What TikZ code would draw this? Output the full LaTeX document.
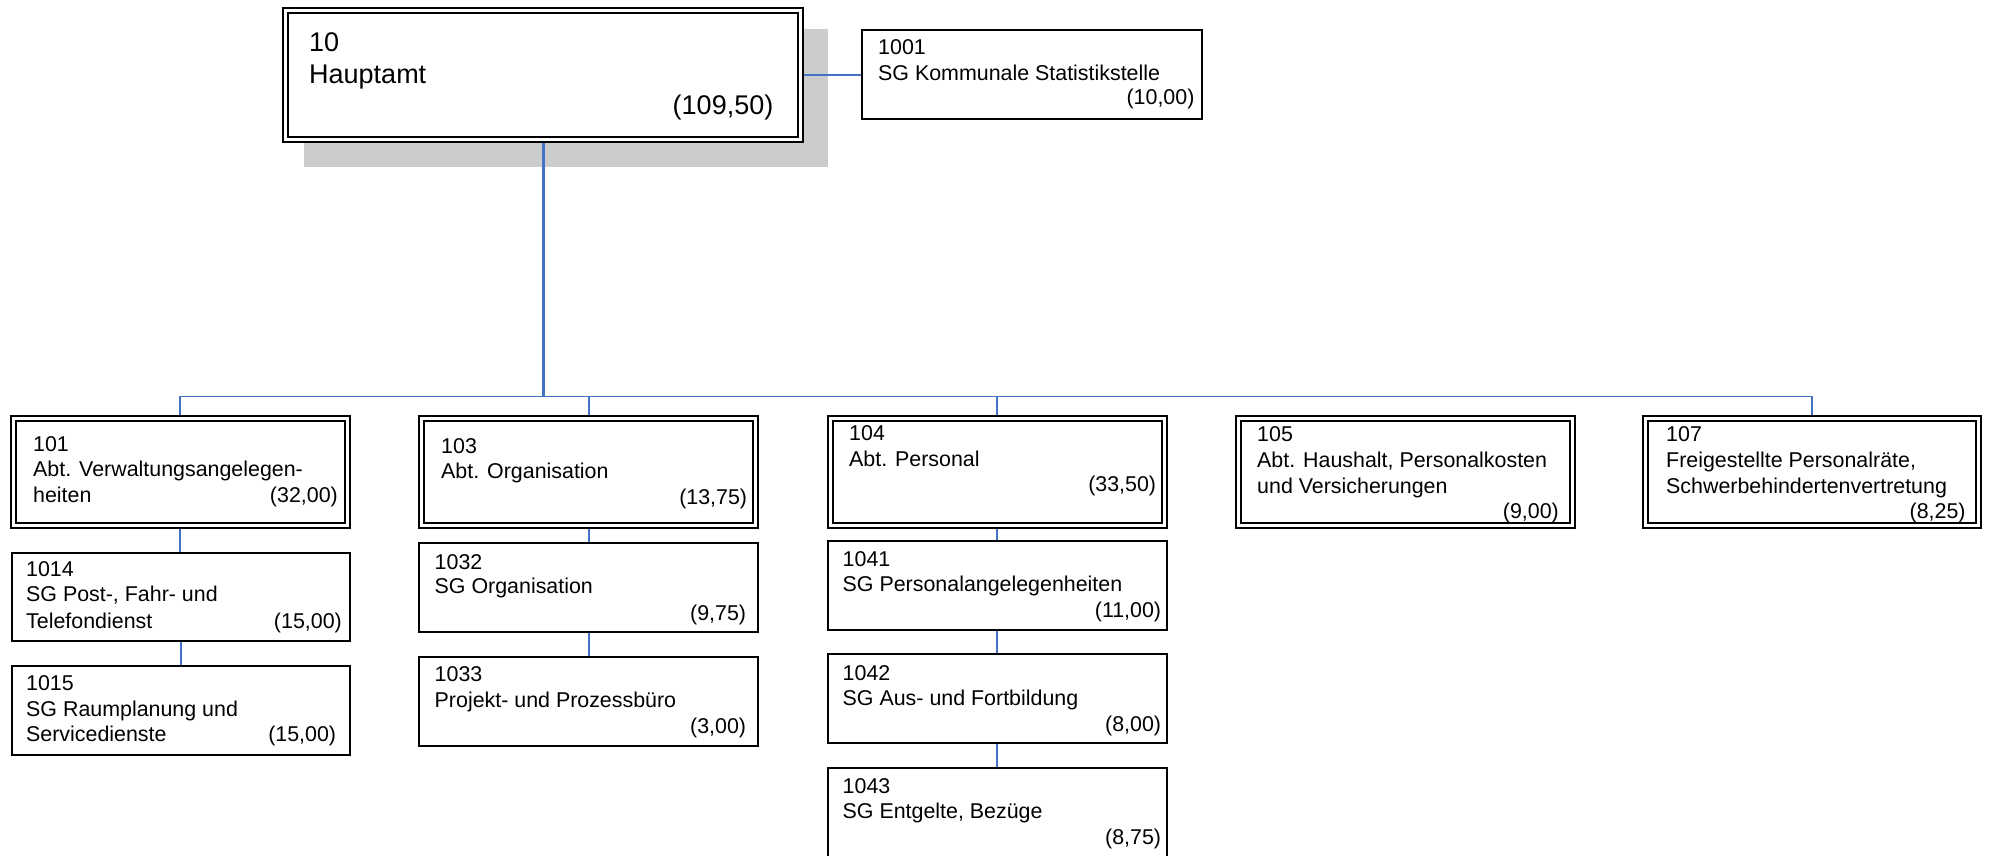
\documentclass[tikz,border=0pt]{standalone}
\usepackage{fontspec}
\setmainfont{Liberation Sans}
\usetikzlibrary{backgrounds}
\definecolor{linkblue}{RGB}{68,114,196}
\definecolor{shadowgray}{RGB}{204,204,204}
\newcommand\fsmall{\fontsize{21.4}{25.5}\selectfont}
\newcommand\fbig{\fontsize{27}{32}\selectfont}
\tikzset{
  dblbox/.style={draw=black, line width=2pt, double=white, double distance=3pt,
    fill=white, inner sep=0pt, outer sep=0pt, anchor=north west},
  sglbox/.style={draw=black, line width=2pt, fill=white, inner sep=0pt,
    outer sep=0pt, anchor=north west},
  conn/.style={draw=linkblue, line width=1.8pt},
  mainconn/.style={draw=linkblue, line width=2.8pt},
  lbl/.style={anchor=base west, inner sep=0pt, font=\fsmall},
  lblr/.style={anchor=base east, inner sep=0pt, font=\fsmall},
  biglbl/.style={anchor=base west, inner sep=0pt, font=\fbig},
  biglblr/.style={anchor=base east, inner sep=0pt, font=\fbig},
}
% name, x1, y1, x2, y2 (outer edges in px)
\newcommand\mkdbl[5]{\node[dblbox, minimum width={#4-#2-7}, minimum height={#5-#3-7}] (#1) at ({#2+3.5},{#3+3.5}) {};}
\newcommand\mksgl[5]{\node[sglbox, minimum width={#4-#2-2}, minimum height={#5-#3-2}] (#1) at ({#2+1},{#3+1}) {};}
\begin{document}
\begin{tikzpicture}[x=1pt,y=-1pt]
\useasboundingbox (0,0) rectangle (1992,856);
\begin{pgfonlayer}{background}
  \fill[shadowgray] (304.3,29) rectangle (828,166.7);
\end{pgfonlayer}

% top
\mkdbl{b10}{282}{6.7}{804.3}{143.3}
\node[biglbl] (t10a) at (309,51.7) {10};
\node[biglbl] (t10b) at (309,83.3) {Hauptamt};
\node[biglblr] (t10c) at (773.5,115) {(109,50)};

\mksgl{b1001}{860.5}{29.3}{1202.5}{120}
\node[lbl] (t1001a) at (878,55) {1001};
\node[lbl] (t1001b) at (878,81) {SG Kommunale Statistikstelle};
\node[lblr] (t1001c) at (1194.6,105) {(10,00)};

% 101
\mkdbl{b101}{10}{415}{350.7}{529}
\node[lbl] (t101a) at (33,451.7) {101};
\node[lbl] (t101b) at (33,476.7) {Abt. Verwaltungsangelegen-};
\node[lbl] (t101c) at (33,502.3) {heiten};
\node[lblr] (t101d) at (338,502.3) {(32,00)};

\mksgl{b1014}{10.5}{551.7}{350.7}{642.3}
\node[lbl] (t1014a) at (26,576.7) {1014};
\node[lbl] (t1014b) at (26,601.7) {SG Post-, Fahr- und};
\node[lbl] (t1014c) at (26,628.3) {Telefondienst};
\node[lblr] (t1014d) at (342,628.3) {(15,00)};

\mksgl{b1015}{10.5}{665}{350.7}{755.7}
\node[lbl] (t1015a) at (26,690.7) {1015};
\node[lbl] (t1015b) at (26,716) {SG Raumplanung und};
\node[lbl] (t1015c) at (26,741.7) {Servicedienste};
\node[lblr] (t1015d) at (336.3,741.7) {(15,00)};

% 103
\mkdbl{b103}{418.3}{415}{759}{529}
\node[lbl] (t103a) at (441,453.3) {103};
\node[lbl] (t103b) at (441,478.3) {Abt. Organisation};
\node[lblr] (t103c) at (747.3,504) {(13,75)};

\mksgl{b1032}{418.3}{542.3}{759}{633.3}
\node[lbl] (t1032a) at (434.5,569) {1032};
\node[lbl] (t1032b) at (434.5,593.3) {SG Organisation};
\node[lblr] (t1032c) at (746.3,620) {(9,75)};

\mksgl{b1033}{418.3}{655.7}{759}{746.7}
\node[lbl] (t1033a) at (434.5,681.7) {1033};
\node[lbl] (t1033b) at (434.5,707.7) {Projekt- und Prozessbüro};
\node[lblr] (t1033c) at (746.3,733.3) {(3,00)};

% 104
\mkdbl{b104}{826.7}{415}{1167.7}{529}
\node[lbl] (t104a) at (849,440) {104};
\node[lbl] (t104b) at (849,466) {Abt. Personal};
\node[lblr] (t104c) at (1156.3,491.7) {(33,50)};

\mksgl{b1041}{826.7}{540}{1167.7}{630.7}
\node[lbl] (t1041a) at (842.5,566) {1041};
\node[lbl] (t1041b) at (842.5,591.7) {SG Personalangelegenheiten};
\node[lblr] (t1041c) at (1161.3,617.3) {(11,00)};

\mksgl{b1042}{826.7}{653.3}{1167.7}{744.3}
\node[lbl] (t1042a) at (842.5,680) {1042};
\node[lbl] (t1042b) at (842.5,705) {SG Aus- und Fortbildung};
\node[lblr] (t1042c) at (1161.3,731.7) {(8,00)};

\mksgl{b1043}{826.7}{766.7}{1167.7}{857.7}
\node[lbl] (t1043a) at (842.5,793.3) {1043};
\node[lbl] (t1043b) at (842.5,818.3) {SG Entgelte, Bezüge};
\node[lblr] (t1043c) at (1161.3,844) {(8,75)};

% 105
\mkdbl{b105}{1234.8}{415}{1575.5}{529}
\node[lbl] (t105a) at (1257,441) {105};
\node[lbl] (t105b) at (1257,467) {Abt. Haushalt, Personalkosten};
\node[lbl] (t105c) at (1257,493) {und Versicherungen};
\node[lblr] (t105d) at (1559,518) {(9,00)};

% 107
\mkdbl{b107}{1642.4}{415}{1982.2}{529}
\node[lbl] (t107a) at (1666,441) {107};
\node[lbl] (t107b) at (1666,467) {Freigestellte Personalräte,};
\node[lbl] (t107c) at (1666,493) {Schwerbehindertenvertretung};
\node[lblr] (t107d) at (1965.8,518) {(8,25)};

% connectors
\coordinate (bus) at (0,396.5);
\begin{pgfonlayer}{background}
  \draw[conn] (b10.east |- b1001.west) -- (b1001.west);
  \draw[mainconn] (b10.south) -- (b10.south |- bus);
  \draw[conn] (b101.north) -- (b101.north |- bus) -- (b107.north |- bus) -- (b107.north);
  \draw[conn] (b103.north) -- (b103.north |- bus);
  \draw[conn] (b104.north) -- (b104.north |- bus);
  \draw[conn] (b101.south) -- (b101.south |- b1014.north);
  \draw[conn] (b1014.south) -- (b1014.south |- b1015.north);
  \draw[conn] (b103.south) -- (b103.south |- b1032.north);
  \draw[conn] (b1032.south) -- (b1032.south |- b1033.north);
  \draw[conn] (b104.south) -- (b104.south |- b1041.north);
  \draw[conn] (b1041.south) -- (b1041.south |- b1042.north);
  \draw[conn] (b1042.south) -- (b1042.south |- b1043.north);
\end{pgfonlayer}
\end{tikzpicture}
\end{document}
